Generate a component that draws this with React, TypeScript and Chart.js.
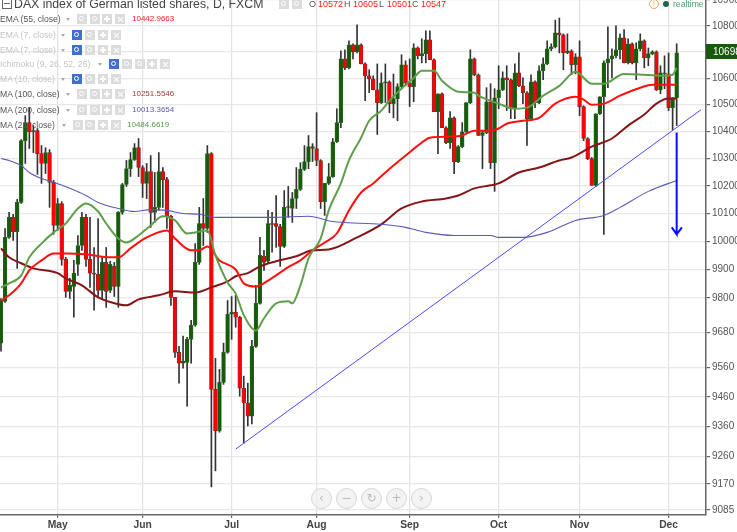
import React, { useEffect, useRef } from "react";
import { Chart, registerables } from "chart.js";

Chart.register(...registerables);

const opens = [9643,9788,10014,10086,10035,10140,10366,10433,10403,10403,10318,10282,10322,10213,10057,10136,9936,9823,9840,9918,9985,10086,9936,9887,9883,9826,9925,9826,9911,9840,10104,10205,10263,10296,10340,10267,10209,10252,10104,10122,10252,10223,10090,9802,9611,9574,9577,9656,9705,9925,10064,10046,10318,9485,9345,9509,9611,9743,9750,9733,9489,9439,9395,9632,9781,9947,9929,10064,10064,10053,9982,10125,10118,10154,10187,10260,10289,10344,10337,10293,10143,10209,10234,10362,10433,10673,10639,10727,10700,10727,10654,10609,10597,10556,10508,10582,10586,10504,10523,10568,10651,10582,10568,10715,10685,10693,10746,10670,10474,10541,10414,10359,10451,10289,10344,10399,10508,10673,10613,10385,10396,10511,10285,10526,10556,10601,10594,10485,10620,10571,10545,10448,10586,10508,10628,10654,10712,10719,10773,10765,10696,10704,10651,10681,10493,10374,10300,10202,10466,10530,10658,10673,10685,10708,10754,10658,10731,10658,10712,10742,10677,10693,10700,10556,10620,10616,10489,10526];
const highs = [9798,10046,10104,10097,10151,10370,10459,10489,10422,10411,10348,10340,10333,10220,10154,10143,9943,9869,9932,10021,10104,10097,10086,9978,10082,9943,9978,9929,9925,10107,10209,10293,10322,10355,10374,10274,10282,10311,10249,10322,10267,10231,10093,9802,9632,9667,9663,9722,9992,10122,10154,10348,10322,9591,9553,9643,9791,9805,9809,9736,9530,9506,9653,9844,10014,9968,10111,10104,10165,10061,10183,10198,10176,10267,10285,10348,10385,10355,10470,10296,10209,10282,10374,10485,10704,10708,10742,10731,10804,10731,10658,10632,10609,10654,10620,10654,10590,10616,10579,10689,10666,10673,10731,10719,10750,10781,10781,10673,10541,10545,10418,10474,10455,10348,10433,10508,10708,10677,10616,10403,10564,10579,10560,10647,10624,10647,10597,10654,10696,10601,10549,10613,10590,10647,10677,10742,10731,10822,10830,10769,10769,10708,10693,10742,10496,10377,10304,10466,10530,10666,10796,10712,10800,10769,10785,10750,10735,10735,10769,10746,10715,10704,10704,10647,10685,10696,10526,10731];
const lows = [9615,9784,10010,10003,9904,10136,10282,10337,10322,10242,10209,10245,10122,10025,10039,9915,9802,9798,9733,9879,9968,9911,9837,9757,9802,9798,9767,9819,9805,9767,10097,10198,10234,10293,10234,10158,10154,10050,10068,10111,10122,10046,9774,9594,9506,9557,9428,9574,9701,9918,9985,10032,9160,9213,9341,9502,9608,9656,9698,9462,9305,9362,9369,9628,9778,9897,9922,9961,9978,9911,9978,10086,10068,10118,10183,10256,10263,10289,10274,10118,10093,10205,10231,10359,10414,10632,10635,10673,10696,10654,10515,10545,10556,10389,10504,10508,10470,10451,10440,10564,10571,10493,10511,10673,10658,10658,10670,10474,10318,10414,10355,10337,10245,10285,10340,10396,10504,10609,10385,10263,10392,10263,10180,10485,10553,10478,10448,10448,10568,10504,10348,10444,10489,10504,10594,10651,10704,10715,10696,10632,10693,10613,10616,10459,10366,10296,10202,10198,10463,10025,10564,10601,10677,10673,10658,10654,10654,10594,10704,10639,10647,10689,10553,10541,10560,10478,10407,10422];
const closes = [9791,10014,10086,10035,10140,10366,10433,10399,10399,10318,10282,10322,10213,10057,10136,9936,9823,9844,9887,9985,10086,9936,9887,9883,9826,9925,9823,9918,9840,10104,10205,10263,10296,10340,10267,10209,10252,10104,10122,10252,10223,10090,9802,9611,9574,9581,9656,9705,9925,10064,10046,10318,9485,9345,9509,9611,9743,9750,9733,9489,9439,9395,9632,9781,9950,9925,10064,10061,10053,9982,10122,10122,10154,10187,10260,10289,10344,10337,10293,10143,10209,10234,10362,10433,10673,10639,10727,10700,10727,10654,10609,10597,10556,10508,10582,10586,10504,10523,10568,10651,10582,10568,10715,10685,10693,10746,10670,10474,10541,10414,10359,10451,10289,10344,10399,10508,10673,10613,10385,10396,10511,10285,10526,10556,10601,10594,10485,10620,10571,10545,10448,10586,10508,10628,10654,10712,10719,10773,10765,10696,10704,10651,10681,10493,10374,10300,10202,10466,10530,10658,10673,10685,10708,10754,10658,10731,10658,10712,10742,10677,10693,10700,10556,10620,10616,10489,10526,10696];

const ma200Idx = [0,2,5,7,10,13,17,21,24,29,33,37,41,45,49,53,59,67,76,82,94,100,105,112,121,123,129,135,142,149,153,160,167];
const ma200Val = [10300,10293,10274,10249,10227,10213,10191,10165,10140,10118,10107,10114,10111,10100,10097,10086,10086,10086,10090,10071,10061,10050,10032,10021,10021,10014,10014,10032,10075,10093,10122,10180,10220];
const ma21Idx = [0,2,5,7,10,13,16,19,21,24,26,29,31,34,37,40,43,46,48,51,53,56,58,60,63,65,68,71,72,74,76,79,81,84,86,89,91,94,96,99,102,104,107,109,113,117,118,123,127,130,134,138,142,146,149,154,159,164,166,167];
const ma21Val = [9837,9851,9879,9943,9992,10032,10064,10118,10136,10107,10064,10010,9996,10021,10057,10090,10075,10028,10032,10039,9950,9854,9815,9740,9687,9729,9781,9788,9781,9844,9939,10010,10111,10209,10293,10377,10440,10478,10515,10560,10601,10628,10628,10590,10549,10545,10534,10504,10485,10489,10534,10571,10624,10579,10579,10616,10613,10609,10613,10639];
const ema55Idx = [0,2,5,7,10,13,16,21,27,29,32,36,41,43,47,49,51,54,58,60,63,66,71,74,77,80,83,86,89,92,95,100,104,106,111,114,117,121,123,125,129,133,137,142,144,146,149,153,158,161,167];
const ema55Val = [9791,9809,9851,9897,9932,9957,9957,9954,9943,9943,9975,10014,10039,10010,9968,9968,9982,9932,9900,9851,9840,9861,9908,9932,9968,9996,10028,10111,10176,10209,10249,10311,10359,10377,10381,10385,10403,10403,10411,10429,10440,10451,10504,10530,10519,10500,10504,10534,10564,10575,10575];
const ma100Idx = [0,2,5,8,14,16,20,24,29,31,34,39,43,48,52,56,58,61,64,68,73,77,81,88,94,99,104,110,113,117,121,123,128,133,138,141,146,151,155,159,162,165,167];
const ma100Val = [9975,9943,9922,9904,9887,9869,9844,9802,9778,9774,9795,9809,9823,9819,9837,9858,9876,9887,9911,9929,9947,9968,9971,10014,10061,10118,10143,10154,10165,10191,10202,10209,10249,10267,10293,10304,10344,10374,10422,10463,10504,10523,10523];

const trendIdx = [58,173];
const trendVal = [9285,10481];
const arrowIdx = [167,167,165.8,167,168.3];
const arrowVal = [10396,10025,10050,10025,10050];

const yTicks = [10900,10800,10700,10600,10500,10400,10300,10200,10100,10000,9900,9800,9680,9560,9460,9360,9260,9170,9085];
const monthIdx = [14,35,57,78,101,123,143,165];
const monthNames = ["May","Jun","Jul","Aug","Sep","Oct","Nov","Dec"];

const legendRows = [
  { name: "EMA (55, close)", y: 19, on: true, boxX: [77, 90, 102, 115], value: "10442.9663", valueX: 132, color: "#ff1a1a" },
  { name: "EMA (7, close)", y: 35, on: false, boxX: [72, 85, 98, 111], value: "", valueX: 0, color: "" },
  { name: "EMA (7, close)", y: 50, on: false, boxX: [72, 85, 98, 111], value: "", valueX: 0, color: "" },
  { name: "Ichimoku (9, 26, 52, 26)", y: 64, on: false, boxX: [109, 122, 135, 147, 160], value: "", valueX: 0, color: "" },
  { name: "MA (10, close)", y: 79, on: false, boxX: [72, 85, 98, 111], value: "", valueX: 0, color: "" },
  { name: "MA (100, close)", y: 94, on: true, boxX: [77, 90, 102, 115], value: "10251.5546", valueX: 132, color: "#a33a3a" },
  { name: "MA (200, close)", y: 110, on: true, boxX: [77, 90, 102, 115], value: "10013.3654", valueX: 132, color: "#5a5ab5" },
  { name: "MA (21, close)", y: 125, on: true, boxX: [73, 85, 98, 111], value: "10484.6619", valueX: 127, color: "#5a9a45" },
];
const ohlc = [
  { t: "O", x: 309, c: "#555" }, { t: "10572", x: 318, c: "#ff1a1a" },
  { t: "H", x: 344, c: "#555" }, { t: "10605", x: 353, c: "#ff1a1a" },
  { t: "L", x: 379, c: "#555" }, { t: "10501", x: 387, c: "#ff1a1a" },
  { t: "C", x: 412, c: "#555" }, { t: "10547", x: 421, c: "#ff1a1a" },
];
const navButtons = [
  { t: "‹", x: 321 }, { t: "−", x: 346 }, { t: "↻", x: 371 }, { t: "+", x: 396 }, { t: "›", x: 421 },
];

const FONT = '"Liberation Sans", Arial, sans-serif';
const GREEN = "#175a0c";
const RED = "#ff0000";

function toPoints(xs: number[], ys: number[]) {
  return xs.map((x, i) => ({ x, y: ys[i] }));
}
function lineSet(xs: number[], ys: number[], color: string, width: number, smooth: boolean) {
  return {
    type: "line" as const,
    data: toPoints(xs, ys),
    borderColor: color,
    borderWidth: width,
    pointRadius: 0,
    cubicInterpolationMode: smooth ? ("monotone" as const) : ("default" as const),
    order: 0,
  };
}

function Box({ x, y, on, kind }: { x: number; y: number; on: boolean; kind: number }) {
  const bg = on ? "#3f6fd0" : "#dcdcdc";
  const glyph =
    kind === 0 || kind === 1 ? (
      <div style={{ position: "absolute", left: 2, top: 2, width: 3, height: 3, border: `${kind === 0 ? 1 : 1.5}px solid #fff`, borderRadius: "50%" }} />
    ) : kind === 2 ? (
      <>
        <div style={{ position: "absolute", left: 2, top: 4, width: 6, height: 1.5, background: "#fff" }} />
        <div style={{ position: "absolute", left: 4.2, top: 2, width: 1.5, height: 6, background: "#fff" }} />
      </>
    ) : (
      <>
        <div style={{ position: "absolute", left: 1.5, top: 4.5, width: 7, height: 1, background: "#fff", transform: "rotate(45deg)" }} />
        <div style={{ position: "absolute", left: 1.5, top: 4.5, width: 7, height: 1, background: "#fff", transform: "rotate(-45deg)" }} />
      </>
    );
  return <div style={{ position: "absolute", left: x, top: y - 5, width: 10, height: 10, background: bg }}>{glyph}</div>;
}

export default function App() {
  const ref = useRef<HTMLCanvasElement>(null);
  useEffect(() => {
    if (!ref.current) return;
    const bodies = opens.map((o, i) => ({ x: i, y: [o, closes[i]] }));
    const wicks = lows.map((l, i) => ({ x: i, y: [l, highs[i]] }));
    const up = opens.map((o, i) => closes[i] >= o);
    const chart = new Chart(ref.current, {
      type: "bar",
      data: {
        datasets: [
          {
            type: "line",
            data: toPoints(arrowIdx, arrowVal),
            borderColor: "#0a0aff",
            borderWidth: 2,
            pointRadius: 0,
            order: 0,
          },
          lineSet(trendIdx, trendVal, "#4a4aff", 1, false),
          lineSet(ma200Idx, ma200Val, "#5a5ab8", 1.1, true),
          lineSet(ma21Idx, ma21Val, "#5f9e4c", 2, true),
          lineSet(ema55Idx, ema55Val, "#ff0f0f", 2, true),
          lineSet(ma100Idx, ma100Val, "#861616", 2, true),
          {
            type: "bar",
            data: bodies,
            grouped: false,
            barThickness: 3.8,
            backgroundColor: up.map((u) => (u ? GREEN : RED)),
            borderColor: up.map((u) => (u ? "#2c6a22" : "#5a3a3a")),
            borderWidth: 0.7,
            borderSkipped: false,
            order: 1,
          },
          {
            type: "bar",
            data: wicks,
            grouped: false,
            barThickness: 1,
            backgroundColor: "#333333",
            borderWidth: 0,
            order: 2,
          },
        ],
      } as any,
      options: {
        responsive: false,
        animation: false,
        layout: { padding: 0 },
        plugins: { legend: { display: false }, title: { display: false }, tooltip: { enabled: false } },
        scales: {
          x: {
            type: "linear",
            min: -0.25,
            max: 174.25,
            offset: false,
            border: { color: "#666", width: 1.5 },
            grid: { offset: false, color: "#e2e2e2", lineWidth: 1.2, tickColor: "#666", tickLength: 3 },
            afterBuildTicks: (s: any) => {
              s.ticks = monthIdx.map((value) => ({ value }));
            },
            afterFit: (s: any) => {
              s.height = 17;
              s.paddingLeft = 0;
              s.paddingRight = 0;
            },
            ticks: {
              autoSkip: false,
              maxRotation: 0,
              padding: 1,
              color: "#444",
              font: { family: FONT, size: 10.3, weight: "bold" },
              callback: (v: any) => monthNames[monthIdx.indexOf(Number(v))] ?? "",
            },
          },
          y: {
            type: "logarithmic",
            position: "right",
            min: 9069,
            max: 10900,
            border: { color: "#666", width: 1.5 },
            grid: { color: "#e8e8e8", lineWidth: 1.2, tickColor: "#666", tickLength: 4 },
            afterBuildTicks: (s: any) => {
              s.ticks = yTicks.map((value) => ({ value }));
            },
            afterFit: (s: any) => {
              s.width = 31;
              s.paddingTop = 0;
              s.paddingBottom = 0;
            },
            ticks: {
              autoSkip: false,
              padding: 2,
              color: "#555",
              font: { family: FONT, size: 10 },
              callback: (v: any) => String(v),
            },
          },
        },
      },
    } as any);
    return () => chart.destroy();
  }, []);

  return (
    <div style={{ position: "fixed", left: 0, top: 0, width: 737, height: 532, overflow: "hidden", background: "#fff", fontFamily: FONT }}>
      <canvas ref={ref} width={737} height={532} style={{ display: "block", width: 737, height: 532 }} />
      <div style={{ position: "absolute", left: 2, top: -1, width: 8, height: 8, border: "1px solid #666" }}>
        <div style={{ position: "absolute", left: 1, top: 3, width: 6, height: 1, background: "#666" }} />
      </div>
      <div style={{ position: "absolute", left: 14, top: -3, fontSize: 12.3, lineHeight: "15px", color: "#444", whiteSpace: "nowrap" }}>
        DAX index of German listed shares, D, FXCM
      </div>
      <Box x={279} y={4} on={false} kind={0} />
      <Box x={292} y={4} on={false} kind={1} />
      {ohlc.map((o, i) => (
        <div key={i} style={{ position: "absolute", left: o.x, top: -1, fontSize: 9, lineHeight: "11px", color: o.c, whiteSpace: "nowrap" }}>
          {o.t}
        </div>
      ))}
      {legendRows.map((r, i) => (
        <React.Fragment key={i}>
          <div style={{ position: "absolute", left: 0, top: r.y - 6, fontSize: 8.6, lineHeight: "12px", color: r.on ? "#555" : "#c4c4c4", whiteSpace: "nowrap" }}>
            {r.name}
          </div>
          <div style={{ position: "absolute", left: r.boxX[0] - 11, top: r.y - 1, width: 0, height: 0, borderLeft: "2.5px solid transparent", borderRight: "2.5px solid transparent", borderTop: "3px solid #aaa" }} />
          {r.boxX.map((bx, j) => (
            <Box key={j} x={bx} y={r.y} on={!r.on && j === 0} kind={r.boxX.length === 5 && j >= 2 ? j - 1 : j} />
          ))}
          {r.value && (
            <div style={{ position: "absolute", left: r.valueX, top: r.y - 6, fontSize: 8, lineHeight: "12px", color: r.color, whiteSpace: "nowrap" }}>
              {r.value}
            </div>
          )}
        </React.Fragment>
      ))}
      <div style={{ position: "absolute", left: 649, top: -1, width: 8, height: 8, border: "1px solid #f0a060", borderRadius: "50%", color: "#f09040", fontSize: 7, lineHeight: "8px", textAlign: "center" }}>!</div>
      <div style={{ position: "absolute", left: 663, top: 1, width: 6, height: 6, borderRadius: "50%", background: "#17694a" }} />
      <div style={{ position: "absolute", left: 673, top: -2, fontSize: 8.6, lineHeight: "12px", color: "#4d9a6a" }}>realtime</div>
      <div style={{ position: "absolute", left: 706, top: 44, width: 31, height: 15, background: GREEN, color: "#fff", fontSize: 10, lineHeight: "15px", paddingLeft: 7, boxSizing: "border-box", overflow: "hidden", whiteSpace: "nowrap" }}>
        10698
      </div>
      {navButtons.map((b, i) => (
        <div key={i} style={{ position: "absolute", left: b.x - 10, top: 488, width: 19, height: 19, borderRadius: "50%", border: "1px solid #d4d4d4", background: "rgba(240,240,240,0.8)", color: "#bbb", fontSize: 12, lineHeight: "18px", textAlign: "center", fontFamily: '"DejaVu Sans"' }}>
          {b.t}
        </div>
      ))}
    </div>
  );
}
